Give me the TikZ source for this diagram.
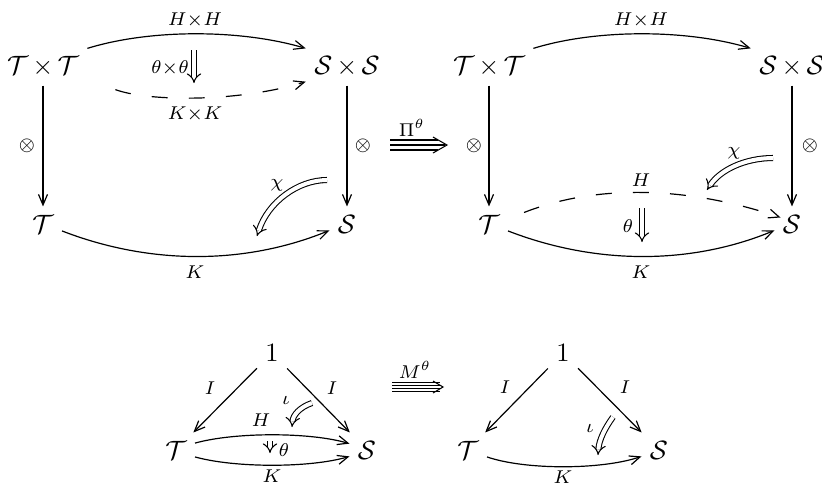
\documentclass[tikz,border=0pt]{standalone}
\usetikzlibrary{arrows.meta,calc}
\begin{document}
\begin{tikzpicture}[x=0.3774pt,y=-0.3774pt,
  obj/.style={inner sep=3pt},
  lbl/.style={inner sep=1pt, execute at begin node=$\scriptstyle, execute at end node=$},
  ar/.style={-{Straight Barb[length=4pt,width=3.4pt]}, line width=0.45pt},
  dar/.style={double, double distance=1.5pt, line width=0.4pt, -{Implies}},
  dsh/.style={ar, dash pattern=on 6pt off 8pt},
  multi/.style={line width=0.4pt},
]
\useasboundingbox (0,0) rectangle (822,487);
% ---------- top-left ----------
\node[obj] (tt) at (43,67) {$\mathcal{T}\,{\times}\,\mathcal{T}$};
\node[obj] (ss) at (347,67) {$\mathcal{S}\,{\times}\,\mathcal{S}$};
\node[obj] (t) at (43,224) {$\mathcal{T}$};
\node[obj] (s) at (347,224) {$\mathcal{S}$};
\draw[ar] (tt) -- (t);
\draw[ar] (ss) -- (s);
\node[lbl] (o1) at (27,146) {\otimes};
\node[lbl] (o2) at (363,146) {\otimes};
\draw[ar] (tt.north east) .. controls (150,29) and (240,29) .. (ss.north west);
\node[lbl] (hh) at (195,20) {H\times H};
\draw[dsh] ($(tt.south east)+(28,4)$) .. controls (150,102) and (240,102) .. ($(ss.south west)+(0,-4)$);
\node[lbl] (kk) at (195,114) {K\times K};
\coordinate (a1) at (194,50);
\coordinate (a2) at (194,83);
\draw[dar] (a1) -- (a2);
\node[lbl] (thth) at (170,68) {\theta\times\theta};
\draw[ar] (t.-20) .. controls (150,265) and (245,265) .. (s.200);
\node[lbl] (k1) at (195,272) {K};
\coordinate (c1s) at (327,180);
\coordinate (c1e) at (257,236);
\draw[dar] (c1s) .. controls (298,180) and (268,202) .. (c1e);
\node[lbl] (chi1) at (277,185) {\chi};
% ---------- Pi ----------
\coordinate (pa) at (390,145);
\coordinate (pb) at (447,145);
\draw[multi] ($(pa)+(0,-5)$) -- ($(pb)+(-9,-5)$);
\draw[multi] (pa) -- ($(pb)+(-2,0)$);
\draw[multi] ($(pa)+(0,5)$) -- ($(pb)+(-9,5)$);
\draw[multi] ($(pb)+(-14,-8)$) -- (pb) -- ($(pb)+(-14,8)$);
\node[lbl] (pi) at (412,128) {\Pi^\theta};
% ---------- top-right ----------
\node[obj] (tt2) at (489,67) {$\mathcal{T}\,{\times}\,\mathcal{T}$};
\node[obj] (ss2) at (792,67) {$\mathcal{S}\,{\times}\,\mathcal{S}$};
\node[obj] (t2) at (489,224) {$\mathcal{T}$};
\node[obj] (s2) at (792,224) {$\mathcal{S}$};
\draw[ar] (tt2) -- (t2);
\draw[ar] (ss2) -- (s2);
\node[lbl] (o3) at (474,146) {\otimes};
\node[lbl] (o4) at (810,146) {\otimes};
\draw[ar] (tt2.north east) .. controls (596,29) and (686,29) .. (ss2.north west);
\node[lbl] (hh2) at (641,20) {H\times H};
\draw[dsh] ($(t2.north east)+(16,6)$) .. controls (594,185) and (684,185) .. ($(s2.north west)+(6,11)$);
\node[lbl] (h2) at (641,180) {H};
\coordinate (b1) at (642,208);
\coordinate (b2) at (642,242);
\draw[dar] (b1) -- (b2);
\node[lbl] (th2) at (628,226) {\theta};
\draw[ar] (t2.-20) .. controls (596,265) and (691,265) .. (s2.200);
\node[lbl] (k2) at (641,272) {K};
\coordinate (c2s) at (773,158);
\coordinate (c2e) at (707,190);
\draw[dar] (c2s) .. controls (745,158) and (720,170) .. (c2e);
\node[lbl] (chi2) at (734,153) {\chi};
% ---------- bottom-left ----------
\node[obj] (one1) at (272,353) {$1$};
\node[obj] (t3) at (176,450) {$\mathcal{T}$};
\node[obj] (s3) at (367,450) {$\mathcal{S}$};
\draw[ar] (one1) -- (t3);
\draw[ar] (one1) -- (s3);
\node[lbl] (i1) at (210,388) {I};
\node[lbl] (i2) at (332,388) {I};
\draw[ar] (t3.20) .. controls (235,432) and (310,432) .. (s3.160);
\draw[ar] (t3.-20) .. controls (235,468) and (310,468) .. (s3.200);
\node[lbl] (h3) at (261,420) {H};
\node[lbl] (k3) at (272,476) {K};
\coordinate (d1) at (270,441);
\coordinate (d2) at (270,453);
\draw[dar] (d1) -- (d2);
\node[lbl] (th3) at (284,450) {\theta};
\coordinate (e1s) at (312,403);
\coordinate (e1e) at (292,427);
\draw[dar] (e1s) .. controls (300,407) and (293,415) .. (e1e);
\node[lbl] (io1) at (286,400) {\iota};
% ---------- M ----------
\coordinate (qa) at (392,387);
\coordinate (qb) at (443,387);
\draw[multi] ($(qa)+(0,-4.5)$) -- ($(qb)+(-3,-4.5)$);
\draw[multi] ($(qa)+(0,-1.5)$) -- ($(qb)+(-2,-1.5)$);
\draw[multi] ($(qa)+(0,1.5)$) -- ($(qb)+(-2,1.5)$);
\draw[multi] ($(qa)+(0,4.5)$) -- ($(qb)+(-3,4.5)$);
\draw[multi] ($(qb)+(-10,-6)$) -- (qb) -- ($(qb)+(-10,6)$);
\node[lbl] (m) at (415,370) {M^\theta};
% ---------- bottom-right ----------
\node[obj] (one2) at (563,353) {$1$};
\node[obj] (t4) at (468,450) {$\mathcal{T}$};
\node[obj] (s4) at (659,450) {$\mathcal{S}$};
\draw[ar] (one2) -- (t4);
\draw[ar] (one2) -- (s4);
\node[lbl] (i3) at (505,387) {I};
\node[lbl] (i4) at (625,387) {I};
\draw[ar] (t4.-20) .. controls (525,470) and (601,470) .. (s4.200);
\node[lbl] (k4) at (563,477) {K};
\coordinate (e2s) at (613,417);
\coordinate (e2e) at (598,455);
\draw[dar] (e2s) .. controls (605,428) and (599,440) .. (e2e);
\node[lbl] (io2) at (590,428) {\iota};
\end{tikzpicture}
\end{document}
